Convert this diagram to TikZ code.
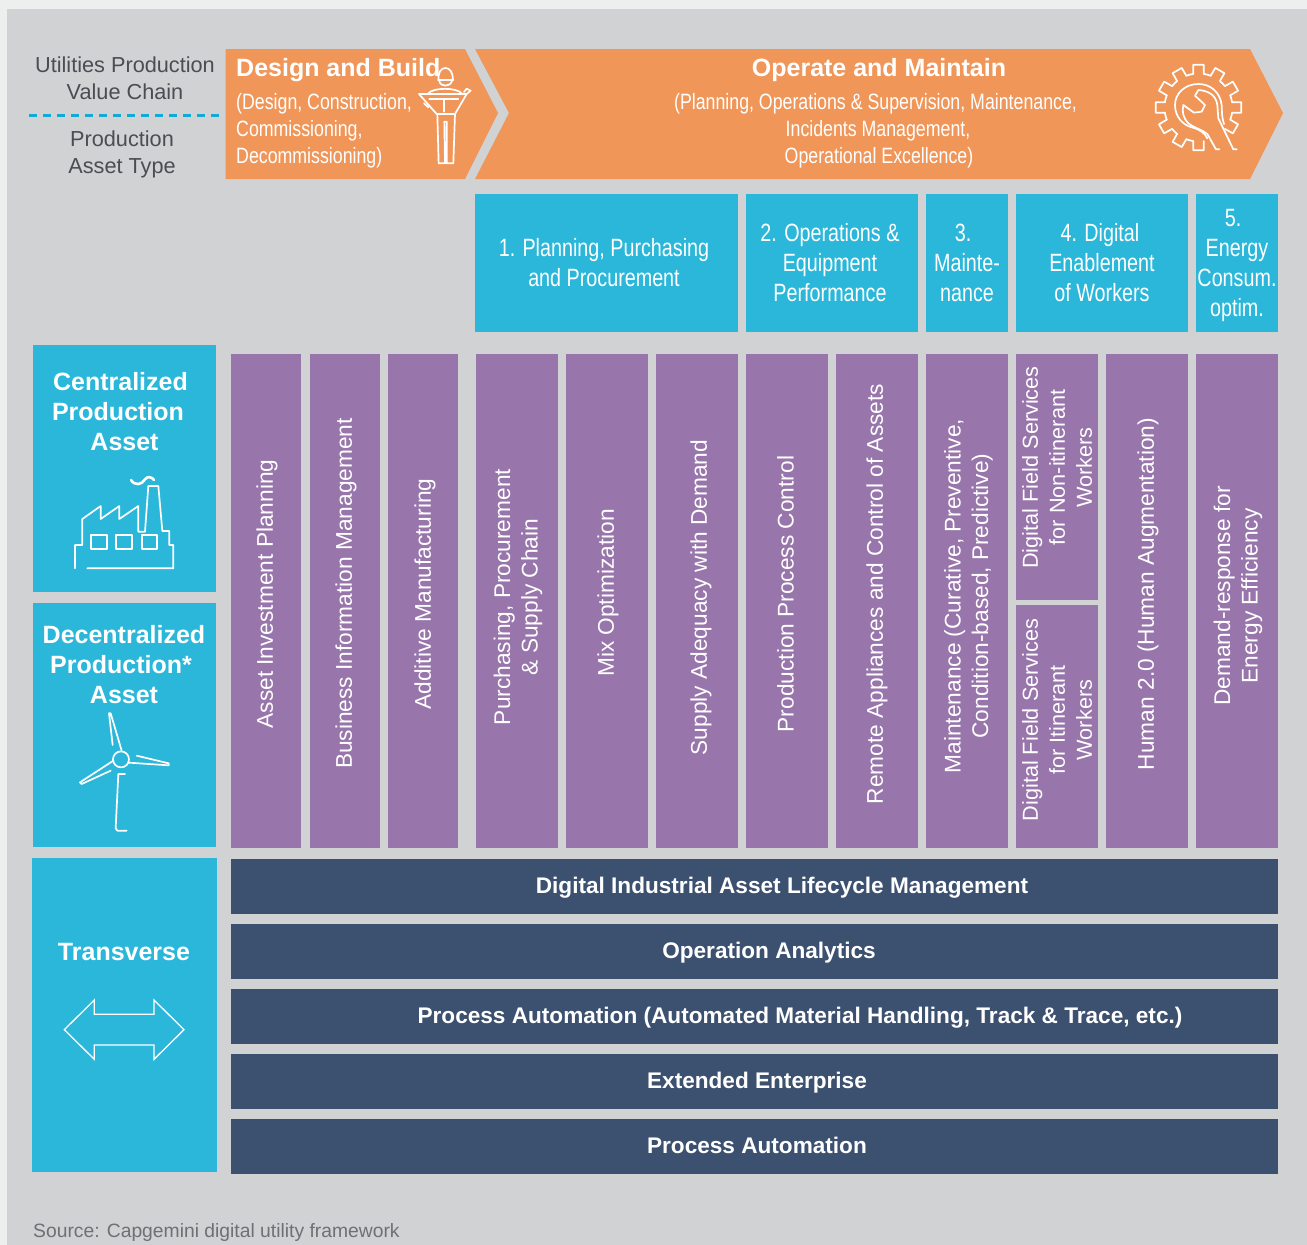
\documentclass[tikz,border=0pt]{standalone}
\usepackage{fontspec}
\setmainfont{Liberation Sans}
\newfontfamily\condfont[FakeStretch=0.79]{Liberation Sans}
\newfontfamily\subfont[FakeStretch=0.8]{Liberation Sans}
\newcommand\trailsp[1]{\hspace*{#1}\mbox{}}
\definecolor{pagebg}{HTML}{ECEFEE}
\definecolor{panel}{HTML}{D1D2D4}
\definecolor{orangeF}{HTML}{F09659}
\definecolor{cyanF}{HTML}{2AB7DA}
\definecolor{purpleF}{HTML}{9875AB}
\definecolor{navyF}{HTML}{3C5070}
\definecolor{dashC}{HTML}{12A9D6}
\definecolor{inkC}{HTML}{4A4D52}
\definecolor{srcC}{HTML}{6E7074}
\tikzset{
  txt/.style={inner sep=0pt,align=center,text=white},
  cond/.style={txt,font=\condfont\fontsize{25}{30}\selectfont},
  sub/.style={txt,font=\subfont\fontsize{22.2}{27}\selectfont},
  headb/.style={txt,font=\bfseries\fontsize{25}{30}\selectfont},
  navyt/.style={txt,anchor=base,font=\bfseries\fontsize{22.6}{27}\selectfont},
  vert/.style={txt,rotate=90,font=\fontsize{22.7}{27.5}\selectfont},
  vertS/.style={txt,rotate=90,font=\fontsize{21.7}{27}\selectfont},
  grayt/.style={inner sep=0pt,align=center,text=inkC,font=\fontsize{21.7}{27}\selectfont},
  icon/.style={draw=white,line width=1.7pt,line join=round,line cap=round},
}
\begin{document}
\begin{tikzpicture}[x=1pt,y=-1pt]
\useasboundingbox (0,0) rectangle (1307,1245);
\fill[pagebg] (0,0) rectangle (1307,1245);
\fill[panel] (7,9) rectangle (1307,1245);
% header text
\node[grayt] (vc) at (125,78) {Utilities Production\\Value Chain};
\coordinate (dl) at (29,115.5);
\coordinate (dr) at (222,115.5);
\draw[dashC,line width=2.2pt,dash pattern=on 8pt off 6pt] (dl) -- (dr);
\node[grayt] (pa) at (122,154) {Production\\Asset Type};
% chevrons
\fill[orangeF] (225.5,49) -- (465,49) -- (498,113) -- (465,179) -- (225.5,179) -- cycle;
\fill[orangeF] (475,49) -- (1250,49) -- (1283,113) -- (1250,179) -- (475,179) -- (509,113) -- cycle;
\node[headb,anchor=west] (db) at (236,70.5) {Design and Build};
\node[sub,anchor=north west,align=left] (dbs) at (236,93) {(Design, Construction,\\Commissioning,\\Decommissioning)};
\node[headb] (om) at (879,70.5) {Operate and Maintain};
\node[sub,anchor=north] (oms) at (875.5,93) {(Planning, Operations \& Supervision, Maintenance,\\\hspace*{5pt}Incidents Management,\\\hspace*{7pt}Operational Excellence)};
% engineer icon
\begin{scope}[x=1/3*1pt,y=-1/3*1pt,icon]
 \draw (1316,240) .. controls (1310,192) and (1362,192) .. (1358,240);
 \draw (1314,240) -- (1360,240);
 \draw (1318,242) .. controls (1320,262) and (1352,262) .. (1356,242);
 \draw (1285,280) .. controls (1300,262) and (1370,262) .. (1385,280);
 \draw (1257,282) -- (1400,282) -- (1365,342) -- (1310,342) -- cycle;
 \draw (1400,282) -- (1412,272) -- (1400,266) -- (1392,276);
 \draw (1272,310) -- (1285,322);
 \draw (1288,298) -- (1375,298);
 \draw (1333,298) -- (1333,335);
 \draw (1312,342) -- (1316,490) -- (1335,490) -- (1333,365) -- (1340,365) -- (1340,490) -- (1360,490) -- (1365,342);
\end{scope}
% gear icon
\begin{scope}[shift={(1198.5,107.5)},x=1pt,y=1pt,icon]
 \foreach \a in {90,60,30,0,-30,-90,-120,-150,180,150,120}{
   \draw ({\a-9}:34) -- ({\a-7}:43) -- ({\a+7}:43) -- ({\a+9}:34);
 }
 \foreach \a in {75,45,15,-15,-105,-135,-165,165,135,105}{
   \draw ({\a+6}:34) arc[start angle=\a+6,end angle=\a-6,radius=34pt];
 }
\end{scope}
\begin{scope}[shift={(1120,30)},x=1/3*1pt,y=-1/3*1pt,icon]
 \draw (312,282) .. controls (305,262) and (306,245) .. (305,225) .. controls (300,185) and (270,162) .. (235,162) .. controls (195,162) and (165,190) .. (165,225) .. controls (165,262) and (190,285) .. (215,292) .. controls (240,298) and (255,310) .. (262,325);
 \draw (298,358) -- (288,358) -- (262,312) .. controls (245,298) and (225,295) .. (205,280) .. controls (190,265) and (185,245) .. (190,225) -- (222,248) -- (245,245) -- (255,225) -- (225,197) -- (235,180) .. controls (265,182) and (288,195) .. (292,225) -- (295,265) -- (340,358) -- (350,358);
\end{scope}
% top blue boxes
\fill[cyanF] (475,194) rectangle (738,332);
\fill[cyanF] (746,194) rectangle (918,332);
\fill[cyanF] (926,194) rectangle (1008,332);
\fill[cyanF] (1016,194) rectangle (1188,332);
\fill[cyanF] (1196,194) rectangle (1278,332);
\node[cond] (t1) at (604,263) {1. Planning, Purchasing\\and Procurement};
\node[cond] (t2) at (830,263) {2. Operations \&\\Equipment\\Performance};
\node[cond] (t3) at (967,263) {3.\trailsp{8pt}\\Mainte-\\nance};
\node[cond] (t4) at (1102,263) {4. Digital\trailsp{4pt}\\Enablement\\of Workers};
\node[cond] (t5) at (1237,265) {5.\trailsp{8pt}\\Energy\\Consum.\\optim.};
% left blue boxes
\fill[cyanF] (33,345) rectangle (216,592);
\fill[cyanF] (33,603) rectangle (216,847);
\fill[cyanF] (32,858) rectangle (217,1172);
\node[headb] (lc) at (120.5,412) {Centralized\\Production\trailsp{5pt}\\\hspace*{8pt}Asset};
\node[headb] (ld) at (124,665) {Decentralized\\Production*\trailsp{6pt}\\Asset};
\node[headb] (lt) at (124,952) {Transverse};
% factory
\begin{scope}[shift={(30,460)},x=1/3*1pt,y=-1/3*1pt,icon]
 \draw (135,325) -- (135,255) -- (157,255) -- (157,177) -- (212,138) -- (212,177) -- (268,138) -- (268,177) -- (325,138) -- (325,215) -- (345,215) -- (355,78) -- (385,78) -- (397,213) -- (418,213) -- (418,255) -- (430,255) -- (430,325) -- (172,325);
 \draw (183,225) rectangle (230,267);
 \draw (258,225) rectangle (305,267);
 \draw (335,225) rectangle (382,267);
 \draw[line width=2.6pt] (303,60) .. controls (315,78) and (335,75) .. (345,58) .. controls (352,48) and (365,50) .. (372,60);
\end{scope}
% turbine
\begin{scope}[shift={(30,700)},x=1/3*1pt,y=-1/3*1pt,icon]
 \draw (273,178) circle[radius=8pt];
 \draw (275,152) -- (242,40) -- (237,40) -- (248,135);
 \draw (297,188) -- (416,196) -- (416,190) -- (320,167);
 \draw (250,182) -- (150,247) -- (155,252) -- (242,212);
 \draw (285,222) -- (265,222) -- (257,385) -- (262,392) -- (290,392);
\end{scope}
% transverse arrow
\begin{scope}[shift={(30,980)},x=1/3*1pt,y=-1/3*1pt]
 \draw[white,line width=1.3pt,line join=miter] (103,149) -- (193,60) -- (193,103) -- (372,103) -- (372,60) -- (462,149) -- (372,238) -- (372,195) -- (193,195) -- (193,238) -- cycle;
\end{scope}
% purple columns
\foreach \l/\r in {231/301,310/380,388/458,476/558,566/648,656/738,746/828,836/918,926/1008,1106/1188,1196/1278}{
  \fill[purpleF] (\l,354) rectangle (\r,848);
}
\fill[purpleF] (1016,354) rectangle (1098,600);
\fill[purpleF] (1016,605) rectangle (1098,848);
\node[vert] (p1) at (267,594) {Asset Investment Planning};
\node[vert] (p2) at (346,593.5) {Business Information Management};
\node[vert] (p3) at (425,594) {Additive Manufacturing};
\node[vert] (p4) at (518,597) {Purchasing, Procurement\\\& Supply Chain};
\node[vert] (p5) at (608,593) {Mix Optimization};
\node[vert] (p6) at (701,597.5) {Supply Adequacy with Demand};
\node[vert] (p7) at (785.5,594) {Production Process Control};
\node[vert] (p8) at (877,594) {Remote Appliances and Control of Assets};
\node[vert] (p9) at (968.5,596) {Maintenance (Curative, Preventive,\\Condition-based, Predictive)};
\node[vertS] (p10) at (1057,467.5) {Digital Field Services\\for Non-itinerant\\Workers};
\node[vertS] (p11) at (1057,720) {Digital Field Services\\for Itinerant\\Workers};
\node[vert] (p12) at (1148,594) {Human 2.0 (Human Augmentation)};
\node[vert] (p13) at (1238,596) {Demand-response for\\Energy Efficiency};
% navy bars
\foreach \t in {859,924,989,1054,1119}{
  \fill[navyF] (231,\t) rectangle (1278,\t+55);
}
\node[navyt] (n1) at (782,893.5) {Digital Industrial Asset Lifecycle Management};
\node[navyt] (n2) at (769,958.5) {Operation Analytics};
\node[navyt] (n3) at (800,1023.5) {Process Automation (Automated Material Handling, Track \& Trace, etc.)};
\node[navyt] (n4) at (757,1088.5) {Extended Enterprise};
\node[navyt] (n5) at (757,1153.5) {Process Automation};
\node[inner sep=0pt,anchor=base west,text=srcC,font=\fontsize{19.3}{24}\selectfont] (src) at (33,1237) {Source: Capgemini digital utility framework};
\end{tikzpicture}
\end{document}
